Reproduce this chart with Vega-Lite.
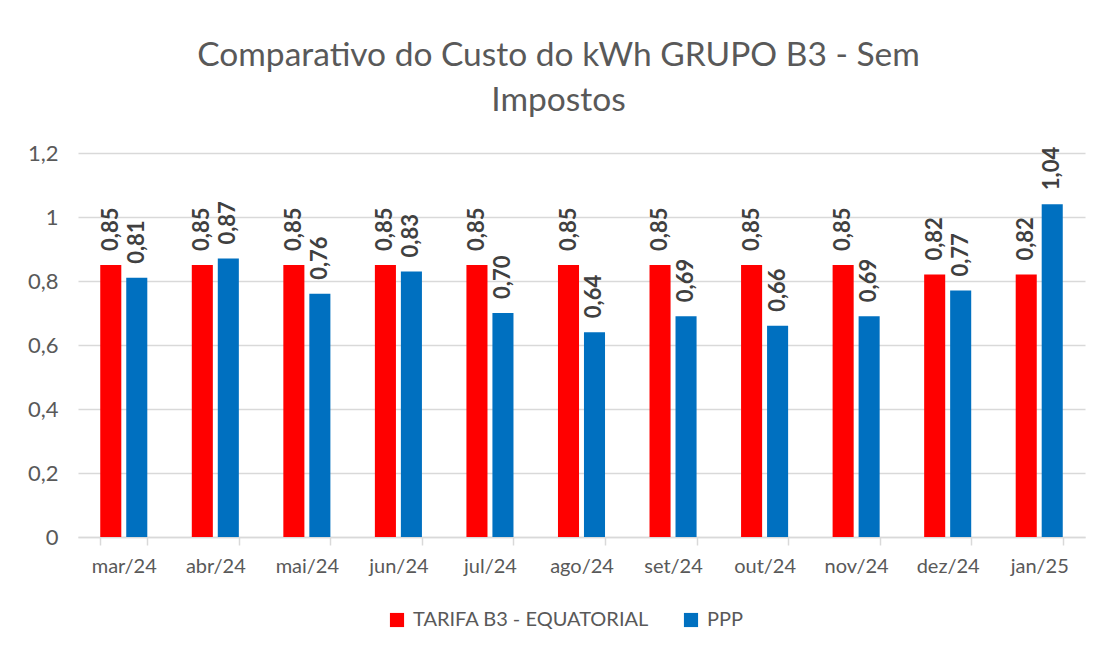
{
  "$schema": "https://vega.github.io/schema/vega-lite/v6.json",
  "width": 1007,
  "height": 384,
  "autosize": {"type": "none"},
  "padding": {"left": 78, "top": 153, "right": 19, "bottom": 115},
  "background": "white",
  "title": {
    "text": ["Comparativo do Custo do kWh GRUPO B3 - Sem", "Impostos"],
    "font": "Lato",
    "fontSize": 33.5,
    "fontWeight": "normal",
    "color": "#595959",
    "lineHeight": 45,
    "offset": 24,
    "frame": "group",
    "dx": -23
  },
  "data": {
    "values": [
      {"mes": "mar/24", "serie": "TARIFA B3 - EQUATORIAL", "valor": 0.85},
      {"mes": "mar/24", "serie": "PPP", "valor": 0.81},
      {"mes": "abr/24", "serie": "TARIFA B3 - EQUATORIAL", "valor": 0.85},
      {"mes": "abr/24", "serie": "PPP", "valor": 0.87},
      {"mes": "mai/24", "serie": "TARIFA B3 - EQUATORIAL", "valor": 0.85},
      {"mes": "mai/24", "serie": "PPP", "valor": 0.76},
      {"mes": "jun/24", "serie": "TARIFA B3 - EQUATORIAL", "valor": 0.85},
      {"mes": "jun/24", "serie": "PPP", "valor": 0.83},
      {"mes": "jul/24", "serie": "TARIFA B3 - EQUATORIAL", "valor": 0.85},
      {"mes": "jul/24", "serie": "PPP", "valor": 0.70},
      {"mes": "ago/24", "serie": "TARIFA B3 - EQUATORIAL", "valor": 0.85},
      {"mes": "ago/24", "serie": "PPP", "valor": 0.64},
      {"mes": "set/24", "serie": "TARIFA B3 - EQUATORIAL", "valor": 0.85},
      {"mes": "set/24", "serie": "PPP", "valor": 0.69},
      {"mes": "out/24", "serie": "TARIFA B3 - EQUATORIAL", "valor": 0.85},
      {"mes": "out/24", "serie": "PPP", "valor": 0.66},
      {"mes": "nov/24", "serie": "TARIFA B3 - EQUATORIAL", "valor": 0.85},
      {"mes": "nov/24", "serie": "PPP", "valor": 0.69},
      {"mes": "dez/24", "serie": "TARIFA B3 - EQUATORIAL", "valor": 0.82},
      {"mes": "dez/24", "serie": "PPP", "valor": 0.77},
      {"mes": "jan/25", "serie": "TARIFA B3 - EQUATORIAL", "valor": 0.82},
      {"mes": "jan/25", "serie": "PPP", "valor": 1.04}
    ]
  },
  "encoding": {
    "x": {
      "field": "mes",
      "type": "nominal",
      "sort": null,
      "title": null,
      "scale": {"paddingInner": 0.486, "paddingOuter": 0.243},
      "axis": {
        "labelAngle": 0,
        "labelFont": "Lato",
        "labelFontSize": 20,
        "labelColor": "#595959",
        "labelPadding": 11,
        "domainColor": "#d9d9d9",
        "domainWidth": 1.5,
        "tickColor": "#d9d9d9",
        "tickWidth": 1.5,
        "tickSize": 8,
        "tickBand": "extent",
        "grid": false
      }
    },
    "xOffset": {
      "field": "serie",
      "type": "nominal",
      "sort": ["TARIFA B3 - EQUATORIAL", "PPP"],
      "scale": {"paddingInner": 0.19, "paddingOuter": 0}
    },
    "y": {
      "field": "valor",
      "type": "quantitative",
      "title": null,
      "scale": {"domain": [0, 1.2]},
      "axis": {
        "values": [0, 0.2, 0.4, 0.6, 0.8, 1, 1.2],
        "format": "~g",
        "labelFont": "Lato",
        "labelFontSize": 22,
        "labelColor": "#595959",
        "labelPadding": 20,
        "domain": false,
        "ticks": false,
        "gridColor": "#d9d9d9",
        "gridWidth": 1.5
      }
    }
  },
  "layer": [
    {
      "mark": {"type": "bar"},
      "encoding": {
        "color": {
          "field": "serie",
          "type": "nominal",
          "sort": ["TARIFA B3 - EQUATORIAL", "PPP"],
          "scale": {"domain": ["TARIFA B3 - EQUATORIAL", "PPP"], "range": ["#FF0000", "#0070C0"]},
          "legend": {
            "title": null,
            "orient": "none",
            "legendX": 309,
            "legendY": 457,
            "direction": "horizontal",
            "symbolType": "square",
            "symbolSize": 200,
            "symbolStrokeWidth": 0,
            "labelFont": "Lato",
            "labelFontSize": 20,
            "labelColor": "#595959",
            "labelLimit": 0,
            "labelOffset": 6,
            "columnPadding": 32
          }
        }
      }
    },
    {
      "mark": {
        "type": "text",
        "angle": 270,
        "align": "left",
        "baseline": "middle",
        "dx": 14,
        "font": "Lato",
        "fontSize": 22,
        "fontWeight": "bold",
        "color": "#404040"
      },
      "encoding": {
        "text": {"field": "valor", "type": "quantitative", "format": ".2f"}
      }
    }
  ],
  "config": {
    "view": {"stroke": null},
    "locale": {
      "number": {"decimal": ",", "thousands": ".", "grouping": [3], "currency": ["R$", ""]}
    }
  }
}
